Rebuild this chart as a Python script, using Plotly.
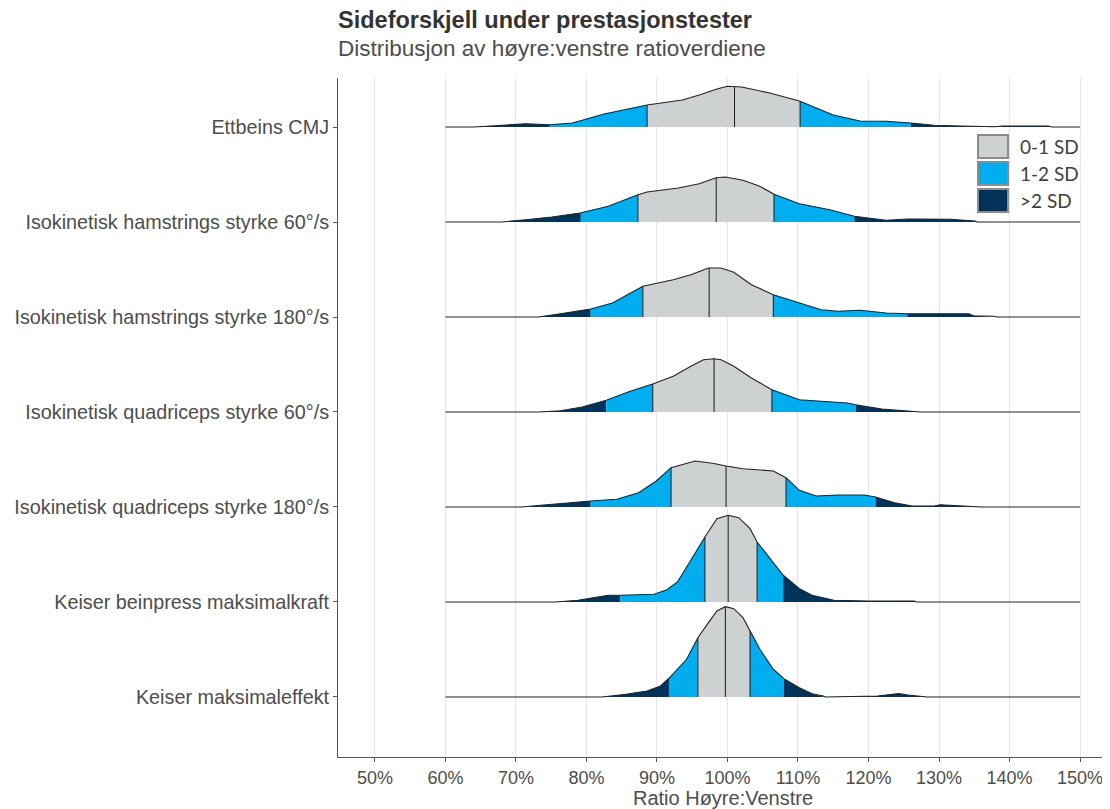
import numpy as np
import plotly.graph_objects as go

# ---------------- data ----------------
categories = [
    "Keiser maksimaleffekt",
    "Keiser beinpress maksimalkraft",
    "Isokinetisk quadriceps styrke 180°/s",
    "Isokinetisk quadriceps styrke 60°/s",
    "Isokinetisk hamstrings styrke 180°/s",
    "Isokinetisk hamstrings styrke 60°/s",
    "Ettbeins CMJ",
]
x_ticks = [50, 60, 70, 80, 90, 100, 110, 120, 130, 140, 150]
x_tick_labels = [f"{v}%" for v in x_ticks]
x_min, x_max = 60, 150

# density curves: ratio (%) and relative density height
cmj_x = [64, 67, 71.4, 74.8, 78, 82.5, 88.6, 93.6, 96, 98.5, 100, 102, 106, 110.2, 112, 115, 118.8, 122.5, 126, 129.3, 133, 137, 138, 139, 145.5, 146]
cmj_d = [0, 1.3, 3.3, 2.3, 4, 13, 22, 27, 32, 38, 40.7, 40, 34, 26, 21, 12, 6, 5.7, 4, 1.7, 1, 0.3, 0.2, 1, 1, 0]
cmj_bands = [74.8, 88.6, 101.0, 110.3, 126.0]

ham60_x = [68, 71.4, 75.1, 79.1, 83.1, 87.3, 88.6, 93, 96, 98.4, 99.7, 102.2, 104.6, 106.6, 110.2, 114.5, 118, 122.5, 125.6, 131.7, 135.1, 135.4]
ham60_d = [0, 2.3, 5, 9, 15.7, 27.3, 30, 34, 38.3, 44.3, 45, 41.7, 35.7, 27.7, 18.3, 12.3, 5.7, 1.7, 3, 2.7, 1, 0]
ham60_bands = [79.2, 87.3, 98.4, 106.6, 118.0]

ham180_x = [73.2, 76.3, 80.6, 83.7, 86.2, 88, 92.3, 94.8, 97.3, 99.1, 100.9, 103.4, 106.5, 110.2, 113.3, 115.7, 118.8, 122.5, 125.5, 134.2, 134.9, 137.9, 138.2]
ham180_d = [0, 3.3, 8, 14, 24, 30.7, 37.3, 42.3, 49, 49, 44.7, 32.3, 22.3, 14, 7.3, 5.7, 6.7, 4, 3.3, 3.3, 1.3, 0.7, 0]
ham180_bands = [80.6, 88.0, 97.4, 106.5, 125.5]

quad60_x = [73.2, 76.3, 79.4, 82.8, 86.2, 89.4, 92.3, 94.8, 96.6, 98.1, 99.1, 100.9, 103.4, 106.3, 110.2, 113.3, 117, 118.2, 121.9, 125.6, 127.3]
quad60_d = [0, 1.3, 5, 11.7, 20.7, 28, 35.7, 45.7, 52.3, 53.3, 52.3, 45.7, 34, 22.3, 12.3, 10.7, 9, 7.3, 3, 1, 0]
quad60_bands = [82.8, 89.4, 98.1, 106.3, 118.2]

quad180_x = [70.8, 73.9, 76.3, 78.8, 80.6, 84.3, 87.4, 89.9, 92, 95.4, 97.9, 99.8, 102.2, 106.5, 108.3, 110.2, 112.6, 115.7, 119.4, 121, 123.7, 126.2, 129.3, 130.2, 133, 136]
quad180_d = [0, 2, 3.7, 5, 6, 7.7, 14.3, 26, 39.3, 46, 43.7, 41, 38.3, 36, 29.3, 16.7, 11, 12, 12, 10, 4.3, 1, 1, 2.3, 1.3, 0]
quad180_bands = [80.6, 92.0, 99.8, 108.3, 121.0]

bein_x = [75.6, 78.8, 83.1, 84.8, 89.6, 91.4, 92.9, 94.8, 96.8, 98.5, 100.1, 101.6, 103.2, 104.2, 105.9, 107.9, 110.2, 112, 115.1, 120, 126.5, 126.8]
bein_d = [0, 1.7, 6.7, 6.7, 7.7, 12.3, 20, 41.7, 65, 83.3, 86.7, 84.3, 73.3, 60, 45, 26.7, 13.3, 6.7, 1.7, 1, 1, 0]
bein_bands = [84.8, 96.8, 100.1, 104.2, 107.9]

maks_x = [82.2, 85.6, 88.6, 90.5, 91.7, 94.2, 95.8, 97.3, 98.5, 99.7, 100.9, 102.2, 103.2, 104.6, 106.5, 108, 110.2, 112, 113.6, 113.9, 121.3, 124.3, 125.6, 128.3]
maks_d = [0, 2.7, 6, 11, 18.7, 37.7, 59.3, 74.3, 86, 90.3, 88.3, 79.3, 66, 47.7, 27.7, 18.3, 9.3, 3.3, 1, 0, 1, 3.3, 2, 0]
maks_bands = [91.7, 95.8, 99.7, 103.2, 108.0]

ridges_x = [maks_x, bein_x, quad180_x, quad60_x, ham180_x, ham60_x, cmj_x]
ridges_d = [maks_d, bein_d, quad180_d, quad60_d, ham180_d, ham60_d, cmj_d]
ridges_bands = [maks_bands, bein_bands, quad180_bands, quad60_bands, ham180_bands, ham60_bands, cmj_bands]

band_names = ["0-1 SD", "1-2 SD", ">2 SD"]
band_colors = ["#CDD1D1", "#00AEEF", "#00335A"]

# ---------------- styling ----------------
height_scale = 1 / 95.0
font_family = "Liberation Sans, Arial, sans-serif"
text_color = "#4d4d4d"

fig = go.Figure()

for idx in range(len(categories) - 1, -1, -1):
    xs = np.array(ridges_x[idx], dtype=float)
    ds = np.array(ridges_d[idx], dtype=float) * height_scale
    b = ridges_bands[idx]
    base = idx
    edges = [xs[0], b[0], b[1], b[3], b[4], xs[-1]]
    seg_colors = [band_colors[2], band_colors[1], band_colors[0], band_colors[1], band_colors[2]]
    for s in range(5):
        a, c = edges[s], edges[s + 1]
        if c <= a:
            continue
        inner = xs[(xs > a) & (xs < c)]
        px = np.concatenate([[a], inner, [c]])
        py = base + np.interp(px, xs, ds)
        poly_x = np.concatenate([px, [c, a]])
        poly_y = np.concatenate([py, [base, base]])
        fig.add_trace(go.Scatter(
            x=poly_x, y=poly_y, mode="lines", fill="toself",
            fillcolor=seg_colors[s], line=dict(width=0),
            hoverinfo="skip", showlegend=False))
    # vertical lines at -1 SD, median, +1 SD
    vx, vy = [], []
    for v in (b[1], b[2], b[3]):
        vx += [v, v, None]
        vy += [base, base + float(np.interp(v, xs, ds)), None]
    fig.add_trace(go.Scatter(x=vx, y=vy, mode="lines",
                             line=dict(color="#1a1a1a", width=1),
                             hoverinfo="skip", showlegend=False))
    # outline: baseline from x_min to x_max plus density curve
    ox = np.concatenate([[x_min], xs, [x_max]])
    oy = np.concatenate([[base], base + ds, [base]])
    fig.add_trace(go.Scatter(x=ox, y=oy, mode="lines",
                             line=dict(color="#222222", width=1.1),
                             hoverinfo="skip", showlegend=False))

# ---------------- layout geometry (page pixels) ----------------
OFF = 8  # page offset of the figure inside the browser window
plot_l, plot_r, plot_t, plot_b = 338, 1108, 78, 757
fig_w, fig_h = 1110 - OFF, 809 - OFF
W = plot_r - plot_l
H = plot_b - plot_t

def px_x(p):
    return (p - plot_l) / W

def px_y(p):
    return (plot_b - p) / H

key_tops = [135, 162, 189]
for i, name in enumerate(band_names):
    fig.add_shape(type="rect", xref="paper", yref="paper",
                  x0=px_x(978), x1=px_x(1008),
                  y0=px_y(key_tops[i] + 23), y1=px_y(key_tops[i]),
                  fillcolor=band_colors[i], line=dict(color="#8c8c8c", width=2))
    fig.add_annotation(xref="paper", yref="paper", x=px_x(1018),
                       y=px_y(key_tops[i] + 11.5), text=name, showarrow=False,
                       xanchor="left", yanchor="middle",
                       font=dict(family="Lato, sans-serif", size=19, color="#404040"))

# titles
fig.add_annotation(xref="paper", yref="paper", x=0, y=px_y(20),
                   text="<b>Sideforskjell under prestasjonstester</b>",
                   showarrow=False, xanchor="left", yanchor="middle", xshift=-2,
                   font=dict(family=font_family, size=23.5, color="#333333"))
fig.add_annotation(xref="paper", yref="paper", x=0, y=px_y(49),
                   text="Distribusjon av høyre:venstre ratioverdiene",
                   showarrow=False, xanchor="left", yanchor="middle", xshift=-2,
                   font=dict(family=font_family, size=22.5, color="#4d4d4d"))

fig.update_layout(
    width=fig_w, height=fig_h,
    margin=dict(l=plot_l - OFF, r=fig_w - (plot_r - OFF), t=plot_t - OFF, b=fig_h - (plot_b - OFF)),
    paper_bgcolor="white", plot_bgcolor="white",
    font=dict(family=font_family, color=text_color, size=16),
    showlegend=False,
)
fig.update_xaxes(
    automargin=False,
    range=[44.76, 153.97], tickvals=x_ticks, ticktext=x_tick_labels,
    showgrid=True, gridcolor="#e6e6e6", gridwidth=1, zeroline=False,
    showline=True, linecolor="#555555", linewidth=1,
    ticks="outside", ticklen=4, tickcolor="#555555",
    tickfont=dict(size=18, color=text_color),
    title=dict(text="Ratio Høyre:Venstre", font=dict(size=20, color=text_color), standoff=2),
)
fig.update_yaxes(
    automargin=False,
    range=[-0.632, 6.516], tickvals=list(range(len(categories))), ticktext=categories,
    showgrid=False, zeroline=False,
    showline=True, linecolor="#555555", linewidth=1,
    ticks="outside", ticklen=4, tickcolor="#555555",
    tickfont=dict(size=19.8, color=text_color),
)

fig.write_html("out.html")
